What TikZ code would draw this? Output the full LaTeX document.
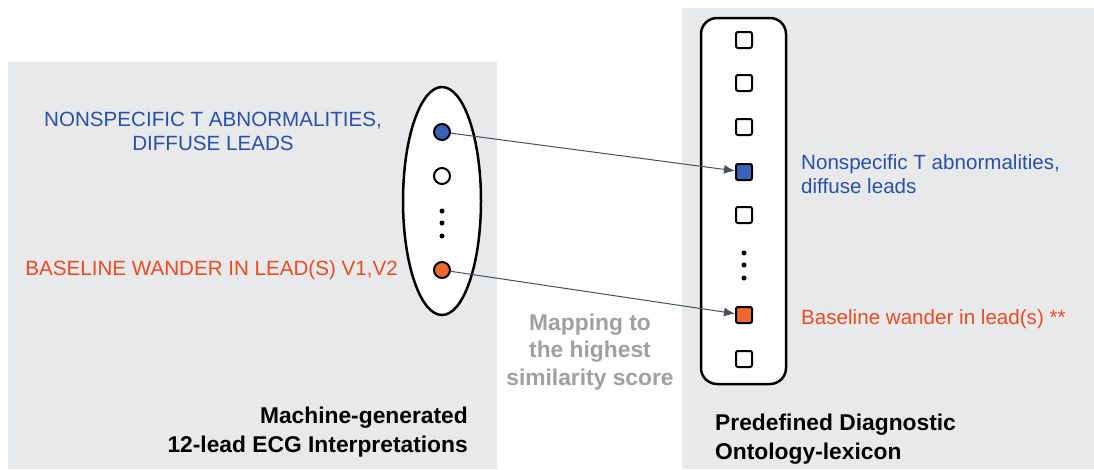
\documentclass[tikz,border=0pt]{standalone}
\usepackage{fontspec}
\setmainfont{Liberation Sans}
\usetikzlibrary{arrows.meta,shapes.geometric}
\definecolor{panelgray}{RGB}{232,233,235}
\definecolor{ecgblue}{RGB}{42,80,168}
\definecolor{ecgorange}{RGB}{240,74,32}
\definecolor{fillblue}{RGB}{58,98,184}
\definecolor{fillorange}{RGB}{238,104,48}
\definecolor{mapgray}{RGB}{160,160,160}
\definecolor{arrowgray}{RGB}{70,80,90}
\begin{document}
\begin{tikzpicture}[x=1pt,y=-1pt,
	item/.style={circle,draw,line width=2pt,minimum size=16pt,inner sep=0pt},
	entry/.style={rectangle,rounded corners=2pt,draw,line width=2pt,minimum size=16pt,inner sep=0pt,fill=white},
	dot/.style={circle,fill,inner sep=0pt,minimum size=5pt},
	maparrow/.style={-{Latex[length=11pt,width=9pt]},arrowgray,line width=1pt},
	reg/.style={font=\fontsize{20.6}{24}\selectfont},
	heading/.style={font=\fontsize{22.8}{29}\selectfont\bfseries}]
				\useasboundingbox (0,0) rectangle (1094,469);
				%panels
				\fill[white] (0,0) rectangle (1094,469);
				\fill[panelgray] (8,62) rectangle (497,469);
				\fill[panelgray] (682,8) rectangle (1094,469);
				
				%machine interpretations
				\node[ellipse,draw,line width=2.5pt,fill=white,minimum width=78pt,minimum height=228pt] (interp) at (442,201) {};
				\node[item,fill=fillblue] (cblue) at (442,132) {};
				\node[item,fill=white] (cwhite) at (442,176) {};
				\foreach \y in {211,223,236}{
					\node[dot] at (442,\y) {};
				}
				\node[item,fill=fillorange] (corange) at (442,270) {};
				
				%lexicon
				\node[draw,rounded corners=16pt,line width=2.5pt,fill=white,minimum width=85pt,minimum height=366pt] (lexicon) at (743.5,201) {};
				\foreach \y/\n in {40/1,83/2,127/3,215/5,359/7}{
					\node[entry] (s\n) at (744,\y) {};
				}
				\node[entry,fill=fillblue] (sblue) at (744,172) {};
				\foreach \y in {253,265,278}{
					\node[dot] at (744,\y) {};
				}
				\node[entry,fill=fillorange] (sorange) at (744,315) {};
				
				\draw[maparrow] (cblue) -- (sblue);
				\draw[maparrow] (corange) -- (sorange);
				
				%labels
				\node[reg,text=ecgblue,align=center] (tnonspec) at (213,131) {NONSPECIFIC T ABNORMALITIES,\\DIFFUSE LEADS};
				\node[reg,text=ecgorange,anchor=east,inner sep=0pt] (tbaseline) at (398,270) {BASELINE WANDER IN LEAD(S) V1,V2};
				\node[reg,text=ecgblue,align=left,anchor=west,inner sep=0pt] (lnonspec) at (801,174) {Nonspecific T abnormalities,\\diffuse leads};
				\node[reg,text=ecgorange,anchor=west,inner sep=0pt] (lbaseline) at (801,319) {Baseline wander in lead(s) **};
				\node[heading,text=mapgray,align=center,font=\fontsize{22.8}{27.5}\selectfont\bfseries] (mapping) at (590,352) {Mapping to\\the highest\\similarity score};
				\node[heading,align=right,anchor=east,inner sep=0pt] (machine) at (468,432) {Machine-generated\\12-lead ECG Interpretations};
				\node[heading,align=left,anchor=west,inner sep=0pt] (ontology) at (715,439) {Predefined Diagnostic\\Ontology-lexicon};
\end{tikzpicture}
\end{document}
